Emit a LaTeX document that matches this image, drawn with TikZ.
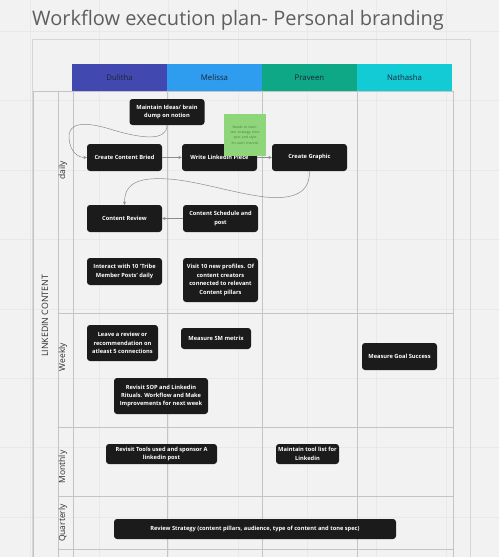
\documentclass[tikz,border=0pt]{standalone}
\usepackage{fontspec}
\setmainfont{Open Sans}
\definecolor{bgc}{HTML}{F2F2F2}
\definecolor{gridc}{HTML}{E9E9E9}
\definecolor{framec}{HTML}{D6D6D6}
\definecolor{linec}{HTML}{C4C4C4}
\definecolor{boxblk}{HTML}{1B1B1B}
\definecolor{notec}{HTML}{8FD67B}
\definecolor{notetxt}{HTML}{4E7A45}
\definecolor{titlec}{HTML}{5E5E5E}
\definecolor{hdA}{HTML}{4149B0}
\definecolor{hdB}{HTML}{2E9CEF}
\definecolor{hdC}{HTML}{0EA887}
\definecolor{hdD}{HTML}{13CBD4}
\definecolor{hdtxt}{HTML}{1E2235}
\definecolor{lanetxt}{HTML}{2E2E2E}
\definecolor{linkc}{HTML}{8C8C8C}
\begin{document}
\begin{tikzpicture}[x=1pt, y=-1pt, line join=round, line cap=round, >=stealth,
  task/.style={fill=boxblk, rounded corners=3pt, text=white, align=center, inner sep=1pt,
    font=\bfseries\fontsize{5.7}{8.4}\selectfont},
  lanelabel/.style={rotate=90, text=lanetxt, font=\fontsize{8.5}{9}\selectfont},
  link/.style={draw=linkc, line width=.5pt, ->}]
\useasboundingbox (0,0) rectangle (499,557);
\fill[bgc] (0,0) rectangle (499,557);
% faint board grid
\foreach \g in {30,99,168,238,307,376,446}
  \draw[gridc, line width=.6pt] (\g,0) -- (\g,557);
\foreach \g in {31,100,170,239,309,378,447,517}
  \draw[gridc, line width=.6pt] (0,\g) -- (499,\g);
\node[anchor=base west, text=titlec, font=\fontsize{20}{22}\selectfont, inner sep=0pt] (T) at (32,25) {Workflow execution plan- Personal branding};
\draw[framec, line width=.8pt] (32,39) rectangle (470,570);
% header
\foreach \p/\c/\i in {Dulitha/hdA/0, Melissa/hdB/1, Praveen/hdC/2, Nathasha/hdD/3}
  \fill[\c] (72+95*\i,64) rectangle +(95,27) node[midway, text=hdtxt, font=\fontsize{7.8}{9}\selectfont] {\p};
% lanes
\draw[linec, line width=.6pt] (33,91) -- (453,91) (58,313) -- (453,313) (58,427) -- (453,427) (58,496) -- (453,496) (58,549) -- (453,549);
\foreach \g in {33,58,73,167,262,357,453}
  \draw[linec, line width=.6pt] (\g,91) -- (\g,557);
\node[lanelabel, font=\fontsize{8.8}{9}\selectfont] (L) at (45,316) {LINKEDIN CONTENT};
\foreach \n/\y/\t in {D/170/daily, W/357/Weekly, M/467/Monthly, Q/523/Quarterly}
  \node[lanelabel] (\n) at (63,\y) {\t};
% tasks
\foreach \n/\x/\y/\w/\h/\t in {
  Id/167/112/75/26/{Maintain Ideas/ brain\\dump on notion},
  Br/124.5/157.5/75/27/{Create Content Bried},
  Wr/219.5/157.5/75/27/{Write Linkedin Piece},
  Gr/309.5/157.5/75/27/{Create Graphic},
  Rv/124.5/218.5/75/27/{Content Review},
  Sc/220.5/218.5/75/27/{Content Schedule and\\post},
  Tr/124.5/271.5/75/27/{Interact with 10 'Tribe\\Member Posts' daily},
  Vi/220.5/280/75/44/{Visit 10 new profiles. Of\\content creators\\connected to relevant\\Content pillars},
  Lv/122.5/343/71/36/{Leave a review or\\recommendation on\\atleast 5 connections},
  Me/216/338.5/70/21/{Measure SM metrix},
  So/161/396/94/36/{Revisit SOP and Linkedin\\Rituals. Workflow and Make\\Improvements for next week},
  Go/399.5/356.5/75/27/{Measure Goal Success},
  To/161.5/454/111/20/{Revisit Tools used and sponsor A\\linkedin post},
  Tl/307.5/454/63/20/{Maintain tool list for\\Linkedin},
  St/255/529/282/20/{Review Strategy (content pillars, audience, type of content and tone spec)}}
  \node[task, minimum width=\w, minimum height=\h] (\n) at (\x,\y) {\t};
% connectors
\draw[link] (Id.south) .. controls (167,142) and (140,138) .. (113,130)
  .. controls (85,121) and (68,122) .. (69,138)
  .. controls (70,152) and (78,157.5) .. (Br.west);
\draw[link] (Br) -- (Wr);
\draw[link] (Wr) -- (Gr);
\draw[link] (Gr.south) .. controls (310,192) and (295,200) .. (265,197)
  .. controls (225,192) and (185,176) .. (150,179)
  .. controls (128,181) and (124.5,192) .. (Rv.north);
\draw[link] (Sc) -- (Rv);
\node[fill=notec, minimum width=42, minimum height=42, text width=36, align=center, inner sep=1pt,
  text=notetxt, font=\fontsize{3.4}{5.2}\selectfont] (N) at (245,135)
  {Needs to maintain strategy, tone spec and style for each channel};
\end{tikzpicture}
\end{document}
